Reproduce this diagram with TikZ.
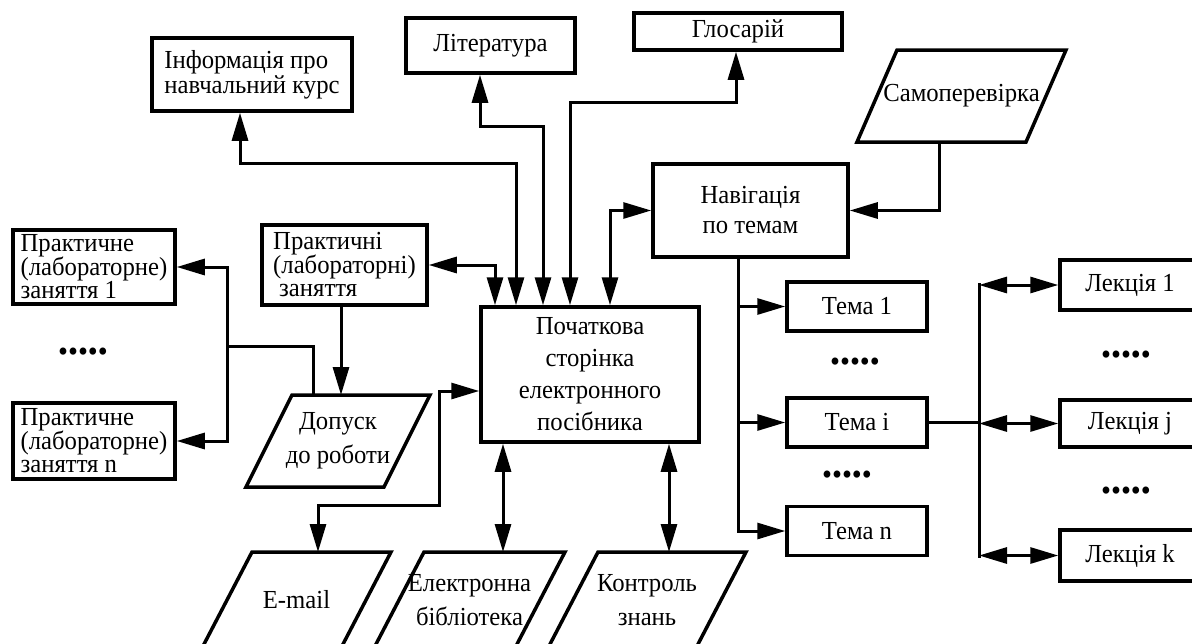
\documentclass[tikz,border=0pt]{standalone}
\usepackage{fontspec}
\setmainfont{Liberation Serif}[FakeStretch=0.95]
\usetikzlibrary{arrows.meta}
\newcommand\fA{\fontsize{26}{32}\selectfont\lineskiplimit=-20pt}
\newcommand\fI{\fontsize{26}{25}\selectfont\lineskiplimit=-20pt}
\newcommand\fN{\fontsize{26}{30}\selectfont\lineskiplimit=-20pt}
\newcommand\fP{\fontsize{26}{23.5}\selectfont\lineskiplimit=-20pt}
\newcommand\fD{\fontsize{26}{34}\selectfont\lineskiplimit=-20pt}
\newcommand\paral[2]{\draw[line width=3.5pt, line join=miter] ([xshift=#2]#1.north west) -- ([xshift=#2]#1.north east) -- ([xshift=-#2]#1.south east) -- ([xshift=-#2]#1.south west) -- cycle;}
\begin{document}
\begin{tikzpicture}[x=1pt,y=-1pt,
  box/.style={draw, line width=3.5pt, inner sep=0pt, align=center, font=\fA},
  para/.style={inner sep=0pt, outer sep=0pt, align=center, font=\fA},
  ln/.style={line width=3pt},
  sgl/.style={ln, -{Triangle[length=28pt,width=16pt]}},
  dbl/.style={ln, {Triangle[length=28pt,width=16pt]}-{Triangle[length=28pt,width=16pt]}},
  dotrow/.style={font=\fontsize{30}{30}\selectfont, inner sep=0pt}]
\useasboundingbox (0,0) rectangle (1192,643);
\fill[white] (0,0) rectangle (1192,643);
\clip (0,0) rectangle (1192,643);

% top boxes
\node[box, minimum width=200pt, minimum height=73pt, align=left, font=\fI] (info) at (252,74.5) {Інформація про\\навчальний курс};
\node[box, minimum width=169pt, minimum height=55pt] (lit) at (490.5,45.5) {Література};
\node[box, minimum width=208pt, minimum height=37pt] (glos) at (738,31.5) {Глосарій};
\node[para, minimum width=169pt, minimum height=92pt, text depth=6pt] (samo) at (961.5,96) {Самоперевірка};
\paral{samo}{20pt}
\node[box, minimum width=195pt, minimum height=93pt, font=\fN] (nav) at (750.5,210.5) {Навігація\\по темам};

% main
\node[box, minimum width=218pt, minimum height=135pt] (main) at (590,374.5) {Початкова\\сторінка\\електронного\\посібника};

% left side
\node[box, minimum width=162pt, minimum height=74pt, align=left, font=\fP] (p1) at (94,267) {Практичне\\(лабораторне)\\заняття 1};
\node[box, minimum width=162pt, minimum height=76pt, align=left, font=\fP] (pn) at (94,441) {Практичне\\(лабораторне)\\заняття n};
\node[dotrow] (dl) at (83,355) {•••••};
\node[box, minimum width=165pt, minimum height=80pt, align=left, font=\fP] (prak) at (344.5,265) {Практичні\\(лабораторні)\\\hspace*{6pt}заняття};
\node[para, minimum width=138pt, minimum height=92pt, font=\fD] (dop) at (338,441) {Допуск\\до роботи};
\paral{dop}{23pt}

% bottom
\node[para, minimum width=139pt, minimum height=96pt] (email) at (296.5,600) {E-mail};
\paral{email}{25pt}
\node[para, minimum width=141pt, minimum height=96pt, font=\fD] (elib) at (469.5,600) {Електронна\\бібліотека};
\paral{elib}{25pt}
\node[para, minimum width=148pt, minimum height=96pt, font=\fD] (kontr) at (647,600) {Контроль\\знань};
\paral{kontr}{25pt}

% topics
\node[box, minimum width=140pt, minimum height=49pt] (t1) at (857,306.5) {Тема 1};
\node[box, minimum width=140pt, minimum height=49pt] (ti) at (857,422.5) {Тема i};
\node[box, minimum width=140pt, minimum height=49pt] (tn) at (857,531) {Тема n};
\node[dotrow] (dt1) at (855,365) {•••••};
\node[dotrow] (dt2) at (847,478) {•••••};

% lectures
\node[box, minimum width=140pt, minimum height=50pt] (l1) at (1130,285) {Лекція 1};
\node[box, minimum width=140pt, minimum height=47pt] (lj) at (1130,423.5) {Лекція j};
\node[box, minimum width=140pt, minimum height=51pt] (lk) at (1130,555.5) {Лекція k};
\node[dotrow] (dk1) at (1126,358) {•••••};
\node[dotrow] (dk2) at (1126,494) {•••••};

% connectors from main
\draw[dbl] (main.north -| 516,0) |- (240,163) -- (info.south -| 240,0);
\draw[dbl] (main.north -| 543,0) |- (480,126) -- (lit.south -| 480,0);
\draw[dbl] (main.north -| 570,0) |- (736,102) -- (glos.south -| 736,0);
\draw[dbl] (main.north -| 495,0) |- (prak.east);
\draw[dbl] (main.north -| 610,0) |- (nav.west);
\draw[sgl] (samo.south -| 939,0) |- (nav.east);
\draw[dbl] (main.west |- 0,391) -| (439,505) -| (email.north -| 318,0);
\draw[dbl] (main.south -| 503,0) -- (elib.north -| 503,0);
\draw[dbl] (main.south -| 669,0) -- (kontr.north -| 669,0);

% practical
\draw[sgl] (prak.south -| 341,0) -- (dop.north -| 341,0);
\coordinate (jn) at (227,346);
\draw[ln] (dop.north -| 313,0) |- (jn);
\draw[sgl] (jn) |- (p1.east);
\draw[sgl] (jn) |- (pn.east);

% topics
\draw[sgl] (nav.south -| 738,0) |- (t1.west);
\draw[sgl] (nav.south -| 738,0) |- (ti.west);
\draw[sgl] (nav.south -| 738,0) |- (tn.west);

% lectures
\coordinate (lv1) at (979,283);
\coordinate (lv2) at (979,558);
\draw[ln] (ti.east) -- (ti.east -| lv1);
\draw[ln] (lv1) -- (lv2);
\draw[dbl] (l1.west -| lv1) -- (l1.west);
\draw[dbl] (lj.west -| lv1) -- (lj.west);
\draw[dbl] (lk.west -| lv1) -- (lk.west);
\end{tikzpicture}
\end{document}
